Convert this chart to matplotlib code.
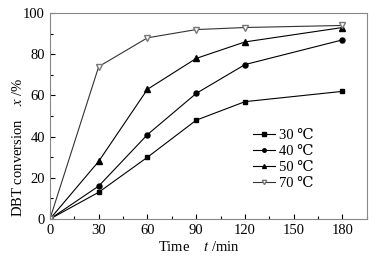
import matplotlib.pyplot as plt
from matplotlib.ticker import MultipleLocator

plt.rcParams['font.family'] = ['Liberation Serif', 'DejaVu Serif']
plt.rcParams['mathtext.fontset'] = 'stix'

time = [0, 30, 60, 90, 120, 180]
labels = ['30 ℃', '40 ℃', '50 ℃', '70 ℃']
conv_30 = [0, 13, 30, 48, 57, 62]
conv_40 = [0, 16, 41, 61, 75, 87]
conv_50 = [0, 28, 63, 78, 86, 93]
conv_70 = [0, 74, 88, 92, 93, 94]

fig = plt.figure(figsize=(3.87, 2.62), dpi=100)
ax = fig.add_axes([0.129, 0.164, 0.819, 0.786])

ax.plot(time, conv_30, color='black', lw=0.8, marker='s', ms=3.3, label=labels[0])
ax.plot(time, conv_40, color='black', lw=0.8, marker='o', ms=3.6, label=labels[1])
ax.plot(time, conv_50, color='black', lw=0.8, marker='^', ms=4, label=labels[2])
ax.plot(time, conv_70, color='#333333', lw=0.8, marker='v', ms=4.5,
        mfc='white', mec='#777777', label=labels[3])

ax.set_xlim(0, 195)
ax.set_ylim(0, 100)
ax.set_xticks([0, 30, 60, 90, 120, 150, 180])
ax.set_yticks([0, 20, 40, 60, 80, 100])
ax.xaxis.set_minor_locator(MultipleLocator(15))
ax.yaxis.set_minor_locator(MultipleLocator(10))
ax.tick_params(which='both', direction='in', labelsize=10.5, top=False, right=False)
ax.tick_params(which='major', length=3.5, width=0.8)
ax.tick_params(which='minor', length=2, width=0.8)
for s in ax.spines.values():
    s.set_color('#888888')
    s.set_linewidth(0.8)

ax.set_xlabel('Time    $t$ /min', fontsize=10.5)
ax.set_ylabel('DBT conversion    $x$ /%', fontsize=10.5)
ax.xaxis.set_label_coords(0.47, -0.10)
ax.yaxis.set_label_coords(-0.08, 0.35)

leg = ax.legend(loc='center left', bbox_to_anchor=(0.6, 0.29), frameon=False,
                fontsize=10.5, handlelength=1.5, handletextpad=0.3,
                labelspacing=0.2, markerscale=0.7)

fig.savefig('out.png', dpi=100)
